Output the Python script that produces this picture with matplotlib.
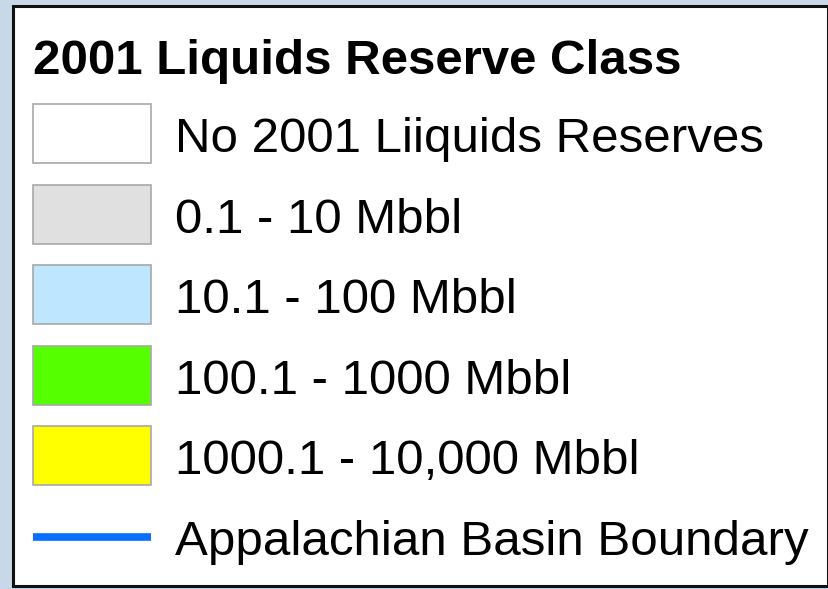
import matplotlib.pyplot as plt
from matplotlib.patches import Rectangle

title = "2001 Liquids Reserve Class"
class_labels = ["No 2001 Liiquids Reserves", "0.1 - 10 Mbbl", "10.1 - 100 Mbbl",
                "100.1 - 1000 Mbbl", "1000.1 - 10,000 Mbbl"]
class_colors = ["#ffffff", "#e0e0e0", "#bee6ff", "#55ff00", "#ffff00"]
line_label = "Appalachian Basin Boundary"
line_color = "#0a6eff"

plt.rcParams['font.family'] = ['Liberation Sans', 'DejaVu Sans']

fig = plt.figure(figsize=(8.29, 5.89), dpi=100)
fig.patch.set_facecolor("#c8d8e8")
ax = fig.add_axes([0, 0, 1, 1])
ax.set_xlim(0, 829)
ax.set_ylim(589, 0)
ax.axis("off")

# legend frame
ax.add_patch(Rectangle((13, 6), 815, 580, facecolor="white", edgecolor="#111111", lw=2.2))

fs = 35.5
ax.text(33, 74, title, fontsize=fs, fontweight="bold", va="baseline", ha="left")

step = 80.6
y0 = 133.5
for i, (lab, col) in enumerate(zip(class_labels, class_colors)):
    yc = y0 + i * step
    ax.add_patch(Rectangle((33, yc - 29.5), 118, 59, facecolor=col, edgecolor="#a8a8a8", lw=1.2))
    ax.text(175, yc + 18.5, lab, fontsize=fs, va="baseline", ha="left")

yl = y0 + len(class_labels) * step
ax.plot([33, 151], [yl, yl], color=line_color, lw=5.5, solid_capstyle="butt")
ax.text(175, yl + 18.5, line_label, fontsize=fs, va="baseline", ha="left")

fig.savefig("out.png", dpi=100, facecolor=fig.get_facecolor())
